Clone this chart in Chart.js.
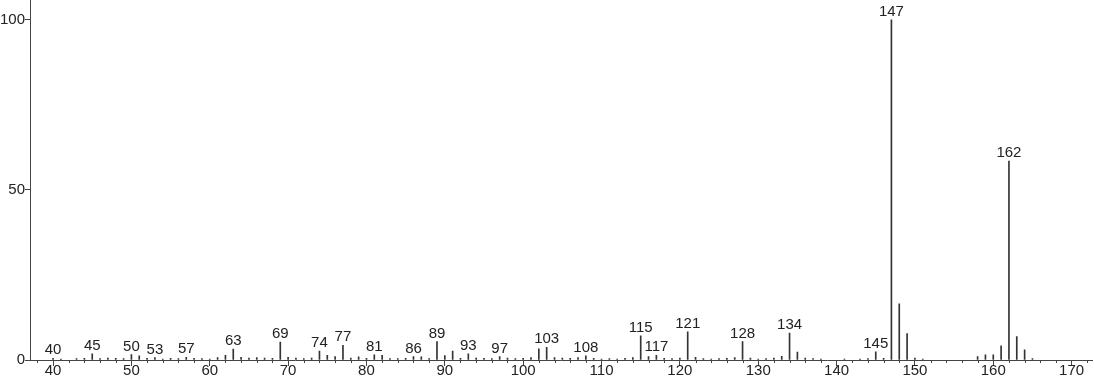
<!DOCTYPE html>
<html>
<head>
<meta charset="utf-8">
<script src="https://cdn.jsdelivr.net/npm/chart.js@4.4.1/dist/chart.umd.min.js"></script>
<style>
body { margin: 0; background: #fff; }
#wrap { width: 1094px; height: 384px; }
</style>
</head>
<body>
<div id="wrap"><canvas id="spectrum" width="1094" height="384"></canvas></div>
<script>
// m/z values and relative intensities
const masses = [40, 41, 43, 44, 45, 46, 47, 48, 49, 50, 51, 52, 53, 54, 55, 56, 57, 58, 59, 60,
  61, 62, 63, 64, 65, 66, 67, 68, 69, 70, 71, 72, 73, 74, 75, 76, 77, 78, 79, 80,
  81, 82, 83, 84, 85, 86, 87, 88, 89, 90, 91, 92, 93, 94, 95, 96, 97, 98, 99, 100,
  101, 102, 103, 104, 105, 106, 107, 108, 109, 110, 111, 112, 113, 114, 115, 116, 117, 118, 119, 120,
  121, 122, 123, 124, 125, 126, 127, 128, 129, 130, 131, 132, 133, 134, 135, 136, 137, 138, 141, 143,
  144, 145, 146, 147, 148, 149, 150, 151, 158, 159, 160, 161, 162, 163, 164, 165];
const intensities = [0.5, 0.3, 0.4, 0.5, 1.8, 0.4, 0.6, 0.5, 0.4, 1.6, 1.2, 0.5, 0.7, 0.3, 0.5, 0.4, 0.8, 0.5, 0.4, 0.3,
  0.7, 1.4, 3.2, 0.8, 0.6, 0.7, 0.6, 0.5, 5.3, 0.8, 0.6, 0.4, 0.6, 2.6, 1.4, 1.0, 4.3, 0.6, 0.9, 0.5,
  1.5, 1.4, 0.4, 0.4, 0.5, 1.0, 0.9, 0.4, 5.4, 1.3, 2.6, 0.5, 1.8, 0.6, 0.5, 0.4, 1.0, 0.6, 0.4, 0.5,
  0.7, 3.3, 3.7, 0.7, 0.6, 0.5, 0.7, 1.2, 0.5, 0.3, 0.4, 0.3, 0.5, 0.7, 7.1, 1.0, 1.4, 0.5, 0.4, 0.6,
  8.3, 0.8, 0.4, 0.3, 0.4, 0.5, 0.7, 5.4, 0.6, 0.3, 0.4, 0.6, 1.1, 7.9, 2.3, 0.6, 0.4, 0.3, 0.3, 0.3,
  0.4, 2.4, 0.5, 100, 16.5, 7.8, 0.6, 0.3, 1.0, 1.5, 1.5, 4.2, 58.5, 6.9, 3.0, 0.4];
const labelledMasses = [40, 45, 50, 53, 57, 63, 69, 74, 77, 81, 86, 89, 93, 97, 103, 108, 115, 117, 121, 128, 134, 145, 147, 162];
const xTickLabels = [40, 50, 60, 70, 80, 90, 100, 110, 120, 130, 140, 150, 160, 170];
const yTickLabels = [0, 50, 100];

const FONT = 'Liberation Sans';
const INK = '#222';
const AXIS = '#444';

// minor ticks every 2 units below the x axis
const minorTicks = {
  id: 'minorTicks',
  afterDraw(chart) {
    const { ctx, scales: { x }, chartArea } = chart;
    ctx.save();
    ctx.strokeStyle = AXIS;
    ctx.lineWidth = 1;
    for (let v = Math.ceil(x.min / 2) * 2; v <= x.max; v += 2) {
      if (v % 10 === 0) continue;
      const px = Math.round(x.getPixelForValue(v)) + 0.5;
      ctx.beginPath();
      ctx.moveTo(px, chartArea.bottom);
      ctx.lineTo(px, chartArea.bottom + 3);
      ctx.stroke();
    }
    ctx.restore();
  }
};

// m/z labels above selected peaks
const peakLabels = {
  id: 'peakLabels',
  afterDatasetsDraw(chart) {
    const { ctx, scales: { x, y } } = chart;
    ctx.save();
    ctx.font = '15px "' + FONT + '"';
    ctx.fillStyle = INK;
    ctx.textAlign = 'center';
    ctx.textBaseline = 'alphabetic';
    labelledMasses.forEach(function (m) {
      const v = intensities[masses.indexOf(m)];
      ctx.fillText(String(m), x.getPixelForValue(m), y.getPixelForValue(v) - 4);
    });
    ctx.restore();
  }
};

Chart.defaults.font.family = FONT;
Chart.defaults.font.size = 15;
Chart.defaults.color = INK;

new Chart(document.getElementById('spectrum'), {
  type: 'bar',
  plugins: [minorTicks, peakLabels],
  data: {
    datasets: [{
      data: masses.map(function (m, i) { return { x: m, y: intensities[i] }; }),
      backgroundColor: '#333',
      barThickness: 1,
      grouped: false,
    }]
  },
  options: {
    responsive: false,
    animation: false,
    layout: { padding: { left: 0, right: 2, top: 0, bottom: 8 } },
    plugins: { legend: { display: false }, tooltip: { enabled: false } },
    scales: {
      x: {
        type: 'linear',
        offset: false,
        min: 37.06,
        max: 172.6,
        afterBuildTicks: function (axis) {
          axis.ticks = xTickLabels.map(function (v) { return { value: v }; });
        },
        ticks: { autoSkip: false, maxRotation: 0, padding: -4 },
        grid: { drawOnChartArea: false, offset: false, tickLength: 6, tickColor: AXIS },
        border: { color: AXIS },
      },
      y: {
        min: 0,
        max: 105.6,
        afterBuildTicks: function (axis) {
          axis.ticks = yTickLabels.map(function (v) { return { value: v }; });
        },
        ticks: { padding: 0, font: { size: 15, lineHeight: 0.1 } },
        grid: { drawOnChartArea: false, tickLength: 5, tickColor: AXIS },
        border: { color: AXIS },
      }
    }
  }
});
</script>
</body>
</html>
